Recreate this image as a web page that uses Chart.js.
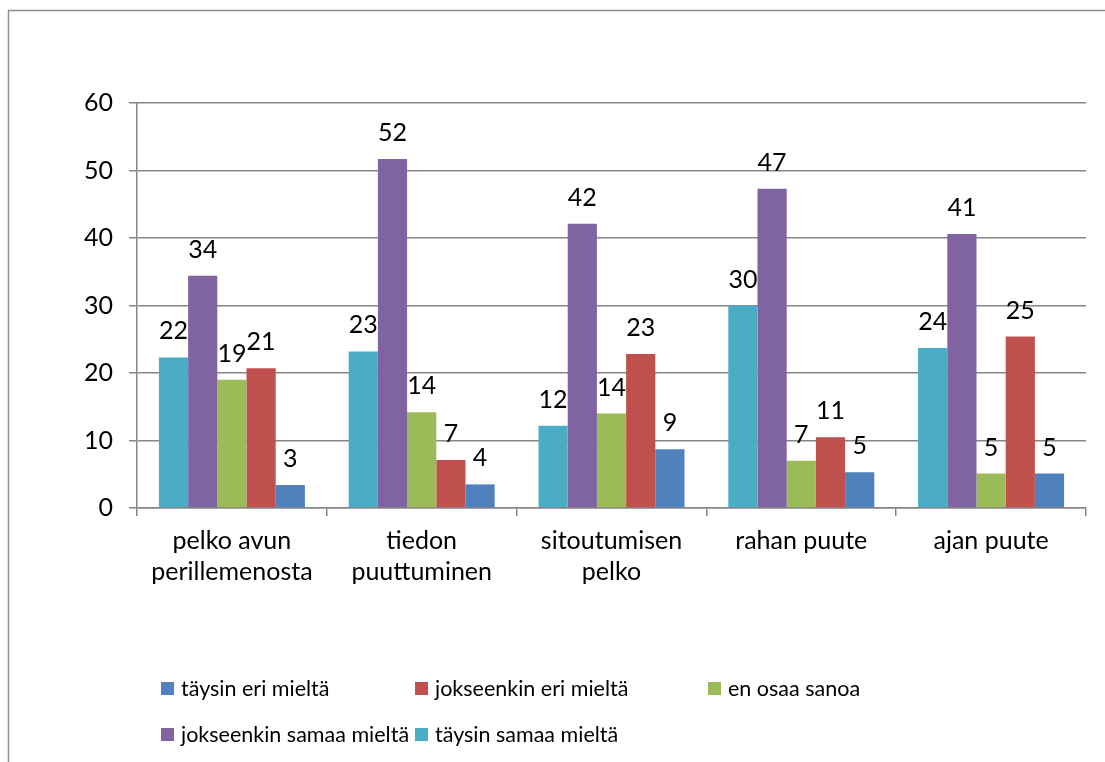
<!DOCTYPE html>
<html>
<head>
<meta charset="utf-8">
<script src="https://cdn.jsdelivr.net/npm/chart.js@4.4.1/dist/chart.umd.min.js"></script>
<style>
  html, body { margin: 0; padding: 0; background: #fff; }
  #wrap { width: 1105px; height: 762px; position: relative; }
</style>
</head>
<body>
<div id="wrap"><canvas id="myChart" width="1105" height="762"></canvas></div>
<script>
// categories (two-line labels like the original)
const categories = [
    ['pelko avun', 'perillemenosta'],
    ['tiedon', 'puuttuminen'],
    ['sitoutumisen', 'pelko'],
    ['rahan puute'],
    ['ajan puute']
]

// series, in bar order left to right inside a group
const taysinSamaa = [22.3, 23.2, 12.2, 30.0, 23.7]
const jokseenkinSamaa = [34.4, 51.7, 42.1, 47.3, 40.6]
const enOsaa = [19.0, 14.2, 14.0, 7.0, 5.1]
const jokseenkinEri = [20.7, 7.1, 22.8, 10.5, 25.4]
const taysinEri = [3.4, 3.5, 8.7, 5.3, 5.1]

const yTicks = [0, 10, 20, 30, 40, 50, 60]

const FONT = 'Lato, "Liberation Sans", sans-serif'
const FSIZE = 25
const LEGEND_SIZE = 21.5

const ctx = document.getElementById('myChart')

// value labels over the bars
const barLabels = {
    id: 'barLabels',
    afterDatasetsDraw(chart) {
        const c = chart.ctx
        c.save()
        c.font = FSIZE + 'px ' + FONT
        c.fillStyle = '#000'
        c.textAlign = 'center'
        c.textBaseline = 'alphabetic'
        chart.data.datasets.forEach((ds, i) => {
            chart.getDatasetMeta(i).data.forEach((bar, j) => {
                c.fillText(String(Math.round(ds.data[j])), bar.x, bar.y - 18)
            })
        })
        c.restore()
    }
}

// outer frame + legend in the Excel grid layout
const frameAndLegend = {
    id: 'frameAndLegend',
    afterDraw(chart) {
        const c = chart.ctx
        c.save()
        c.strokeStyle = '#8f8f8f'
        c.lineWidth = 1.5
        c.beginPath()
        c.moveTo(8.5, 762)
        c.lineTo(8.5, 10.5)
        c.lineTo(1105, 10.5)
        c.stroke()

        const slots = [[161, 682], [415, 682], [708, 682], [161, 728], [415, 728]]
        const order = chart.data.datasets.map((d, i) => i).reverse()
        c.font = LEGEND_SIZE + 'px ' + FONT
        c.textBaseline = 'middle'
        c.textAlign = 'left'
        order.forEach((di, k) => {
            const ds = chart.data.datasets[di]
            const [x, y] = slots[k]
            c.fillStyle = ds.backgroundColor
            c.fillRect(x, y, 13, 13)
            c.fillStyle = '#000'
            c.fillText(ds.label, x + 20, y + 7)
        })
        c.restore()
    }
}

new Chart(ctx, {
    type: 'bar',
    data: {
        labels: categories,
        datasets: [
            { label: 'täysin samaa mieltä', data: taysinSamaa, backgroundColor: '#4BACC6' },
            { label: 'jokseenkin samaa mieltä', data: jokseenkinSamaa, backgroundColor: '#8064A2' },
            { label: 'en osaa sanoa', data: enOsaa, backgroundColor: '#9BBB59' },
            { label: 'jokseenkin eri mieltä', data: jokseenkinEri, backgroundColor: '#C0504D' },
            { label: 'täysin eri mieltä', data: taysinEri, backgroundColor: '#4F81BD' }
        ]
    },
    options: {
        responsive: false,
        animation: false,
        categoryPercentage: 5 / 6.5,
        barPercentage: 1,
        layout: { padding: { top: 103, right: 19, left: 0, bottom: 0 } },
        plugins: {
            legend: { display: false },
            tooltip: { enabled: false }
        },
        scales: {
            y: {
                min: 0,
                max: 60,
                afterFit: (s) => { s.width = 137 },
                afterBuildTicks: (s) => { s.ticks = yTicks.map(v => ({ value: v })) },
                ticks: { color: '#000', font: { family: FONT, size: FSIZE }, padding: 16 },
                grid: { color: '#868686', lineWidth: 1.5, tickLength: 8 },
                border: { color: '#868686', width: 1.5 }
            },
            x: {
                afterFit: (s) => { s.height = 254 },
                ticks: { color: '#000', font: { family: FONT, size: FSIZE, lineHeight: 1.25 }, padding: 9, maxRotation: 0 },
                grid: { drawOnChartArea: false, color: '#868686', lineWidth: 1.5, tickLength: 8 },
                border: { color: '#868686', width: 1.5 }
            }
        }
    },
    plugins: [barLabels, frameAndLegend]
});
</script>
</body>
</html>
